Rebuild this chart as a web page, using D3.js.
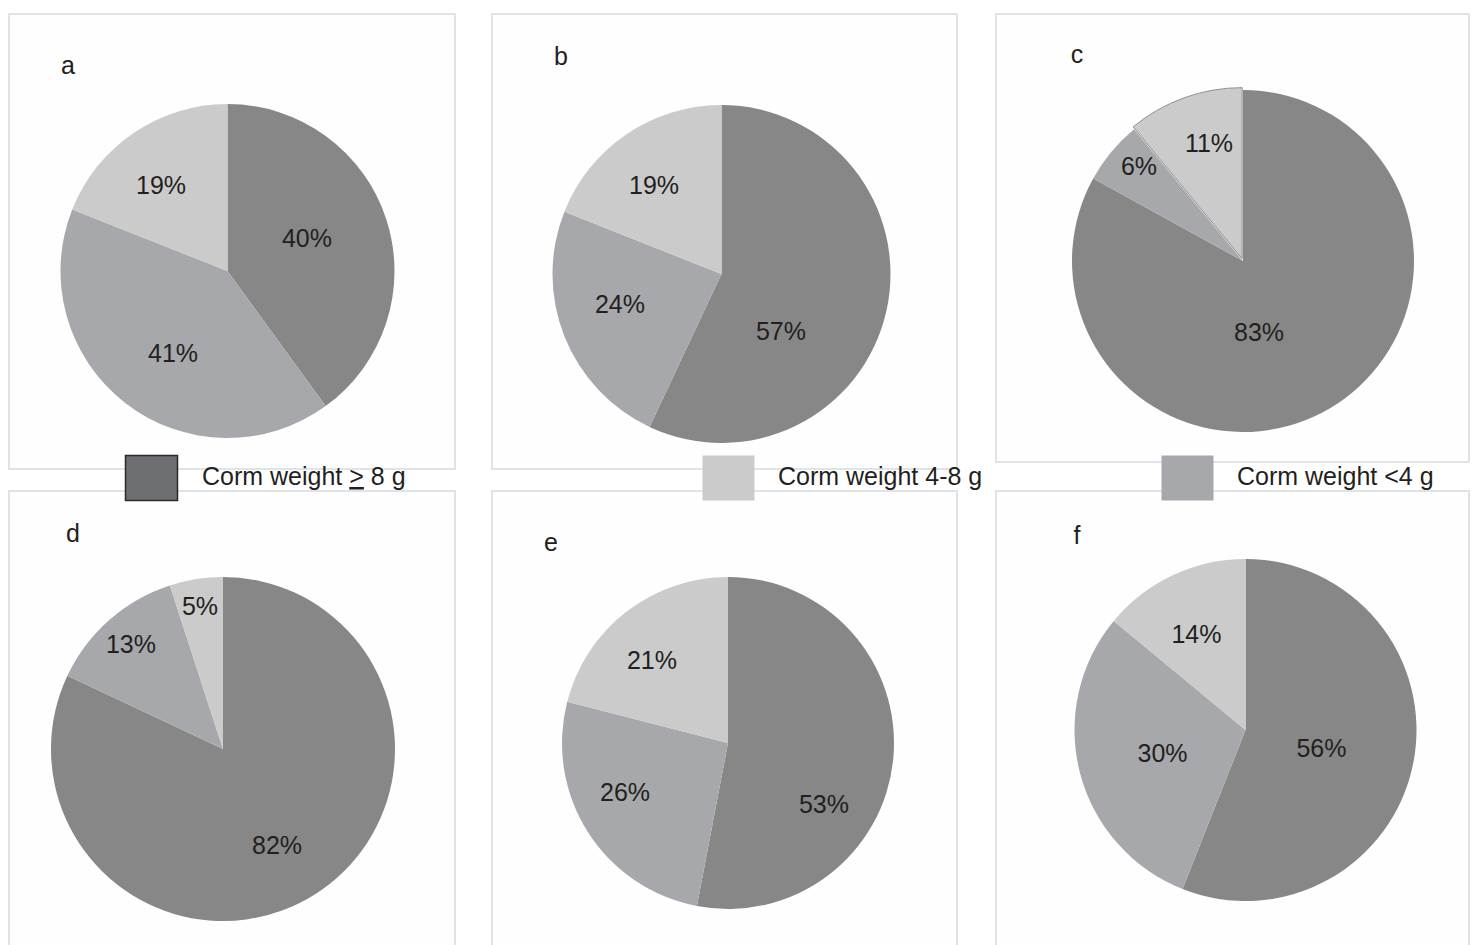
<!DOCTYPE html>
<html>
<head>
<meta charset="utf-8">
<script src="https://cdn.jsdelivr.net/npm/d3@7/dist/d3.min.js"></script>
<style>
  html, body { margin: 0; padding: 0; background: #ffffff; }
  svg { display: block; font-family: "Liberation Sans", Arial, sans-serif; }
</style>
</head>
<body>
<svg id="chart" width="1473" height="945"></svg>
<script>
// Corm weight classes, in pie order (clockwise from 12 o'clock)
const classes = ["Corm weight ≥ 8 g", "Corm weight <4 g", "Corm weight 4-8 g"];

// Share (%) of each class per panel
const panelIds = ["a", "b", "c", "d", "e", "f"];
const valuesA = [40, 41, 19];
const valuesB = [57, 24, 19];
const valuesC = [83, 6, 11];
const valuesD = [82, 13, 5];
const valuesE = [53, 26, 21];
const valuesF = [56, 30, 14];
const panelValues = [valuesA, valuesB, valuesC, valuesD, valuesE, valuesF];

// ---- layout ----
const pieColors = ["#878787", "#a7a8ab", "#cbcbcb"];
const legendColors = { "Corm weight ≥ 8 g": "#6d6e71", "Corm weight 4-8 g": "#cbcbcb", "Corm weight <4 g": "#a7a8ab" };

const frames = [
  { x: 9,   y: 14,  w: 446, h: 455 },
  { x: 492, y: 14,  w: 465, h: 455 },
  { x: 996, y: 14,  w: 473, h: 448 },
  { x: 9,   y: 491, w: 446, h: 470 },
  { x: 492, y: 491, w: 465, h: 470 },
  { x: 996, y: 491, w: 473, h: 470 }
];
const pies = [
  { cx: 227.5, cy: 271, r: 167 },
  { cx: 721.5, cy: 274, r: 169 },
  { cx: 1243,  cy: 261, r: 171 },
  { cx: 223,   cy: 749, r: 172 },
  { cx: 728,   cy: 743, r: 166 },
  { cx: 1245.5, cy: 730, r: 171 }
];
const letterPos = [[68, 74], [561, 65], [1077, 63], [73, 542], [551, 551], [1077, 544]];
// label anchors, relative to pie centre in units of radius
const labelAnchors = [
  [[0.476, -0.198], [-0.326, 0.491], [-0.398, -0.515]],
  [[0.352, 0.337], [-0.601, 0.178], [-0.399, -0.527]],
  [[0.094, 0.415], [-0.608, -0.556], [-0.199, -0.690]],
  [[0.314, 0.558], [-0.535, -0.610], [-0.134, -0.831]],
  [[0.578, 0.367], [-0.620, 0.295], [-0.458, -0.500]],
  [[0.444, 0.105], [-0.485, 0.135], [-0.287, -0.561]]
];

const svg = d3.select("#chart");
const textColor = "#231f20";
const fontSize = 25;

// panel frames
svg.selectAll("rect.frame")
  .data(frames)
  .join("rect")
  .attr("class", "frame")
  .attr("x", d => d.x).attr("y", d => d.y)
  .attr("width", d => d.w).attr("height", d => d.h)
  .attr("fill", "#fefefe")
  .attr("stroke", "#dfe4ea")
  .attr("stroke-width", 2);

const pie = d3.pie().sort(null).value(d => d);

panelValues.forEach((vals, i) => {
  const p = pies[i];
  const arc = d3.arc().innerRadius(0).outerRadius(p.r);
  const g = svg.append("g").attr("transform", `translate(${p.cx},${p.cy})`);
  const arcs = pie(vals);

  g.selectAll("path")
    .data(arcs)
    .join("path")
    .attr("d", arc)
    .attr("fill", (d, j) => pieColors[j])
    .attr("transform", d => {
      // the small 4-8 g slice in panel c is pulled slightly out of the pie
      if (i === 2 && d.index === 2) {
        const mid = (d.startAngle + d.endAngle) / 2;
        return `translate(${2.5 * Math.sin(mid)},${-2.5 * Math.cos(mid)})`;
      }
      return null;
    })
    .attr("stroke", d => (i === 2 && d.index === 2) ? "#8e8e8e" : "none")
    .attr("stroke-width", 1);

  g.selectAll("text")
    .data(arcs)
    .join("text")
    .attr("x", (d, j) => labelAnchors[i][j][0] * p.r)
    .attr("y", (d, j) => labelAnchors[i][j][1] * p.r)
    .attr("text-anchor", "middle")
    .attr("dominant-baseline", "central")
    .attr("font-size", fontSize)
    .attr("fill", textColor)
    .text(d => d.data + "%");

  svg.append("text")
    .attr("x", letterPos[i][0]).attr("y", letterPos[i][1])
    .attr("text-anchor", "middle")
    .attr("font-size", 25)
    .attr("fill", textColor)
    .text(panelIds[i]);
});

// legend, drawn across the gap between the two rows
const legendOrder = ["Corm weight ≥ 8 g", "Corm weight 4-8 g", "Corm weight <4 g"];
const legendX = [125, 702, 1161];
const legend = svg.selectAll("g.legend")
  .data(legendOrder)
  .join("g")
  .attr("class", "legend")
  .attr("transform", (d, i) => `translate(${legendX[i]},455)`);

legend.append("rect")
  .attr("x", 0.5).attr("y", 0.5)
  .attr("width", 52).attr("height", 45)
  .attr("fill", d => legendColors[d])
  .attr("stroke", (d, i) => i === 0 ? "#2b2b2b" : "none")
  .attr("stroke-width", 1.5);

legend.each(function(d, i) {
  const t = d3.select(this).append("text")
    .attr("x", i === 0 ? 77 : 76)
    .attr("y", 30)
    .attr("font-size", fontSize)
    .attr("fill", textColor);
  if (d.includes("≥")) {
    // written as an underlined ">" sign
    const [before, after] = d.split("≥");
    t.append("tspan").text(before);
    t.append("tspan").style("text-decoration", "underline").text(">");
    t.append("tspan").text(after);
  } else {
    t.text(d);
  }
});
</script>
</body>
</html>
